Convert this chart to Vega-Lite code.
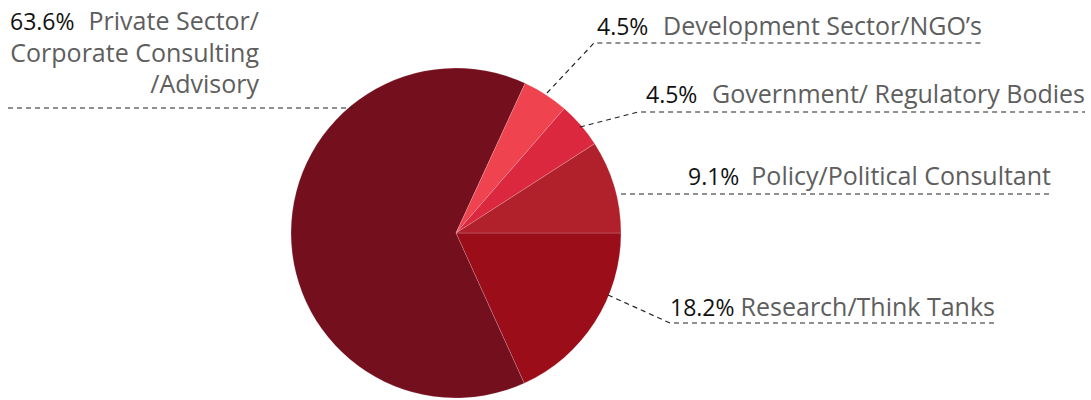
{
  "$schema": "https://vega.github.io/schema/vega-lite/v6.json",
  "width": 1091,
  "height": 400,
  "autosize": {"type": "none"},
  "padding": 0,
  "background": "white",
  "config": {"view": {"stroke": null}},
  "datasets": {
    "slices": [
      {"category": "Research/Think Tanks", "share": 18.2, "ord": 1},
      {"category": "Private Sector/Corporate Consulting/Advisory", "share": 63.6, "ord": 2},
      {"category": "Development Sector/NGO’s", "share": 4.5, "ord": 3},
      {"category": "Government/ Regulatory Bodies", "share": 4.5, "ord": 4},
      {"category": "Policy/Political Consultant", "share": 9.1, "ord": 5}
    ],
    "leaders": [
      {"category": "Private", "pt": 1, "px": 8, "py": 108},
      {"category": "Private", "pt": 2, "px": 353, "py": 108},
      {"category": "Development", "pt": 1, "px": 547, "py": 93},
      {"category": "Development", "pt": 2, "px": 594, "py": 43},
      {"category": "Development", "pt": 3, "px": 982, "py": 43},
      {"category": "Government", "pt": 1, "px": 580, "py": 127},
      {"category": "Government", "pt": 2, "px": 638, "py": 112},
      {"category": "Government", "pt": 3, "px": 1085, "py": 112},
      {"category": "Policy", "pt": 1, "px": 621, "py": 194},
      {"category": "Policy", "pt": 2, "px": 1052, "py": 194},
      {"category": "Research", "pt": 1, "px": 608, "py": 295},
      {"category": "Research", "pt": 2, "px": 670, "py": 323},
      {"category": "Research", "pt": 3, "px": 995, "py": 323}
    ],
    "labels": [
      {"pct": "63.6%", "name": "Private Sector/\nCorporate Consulting\n/Advisory", "x0": 10, "x1": 259, "base": 30},
      {"pct": "4.5%", "name": "Development Sector/NGO’s", "x0": 597, "x1": 982, "base": 35},
      {"pct": "4.5%", "name": "Government/ Regulatory Bodies", "x0": 646, "x1": 1085, "base": 103},
      {"pct": "9.1%", "name": "Policy/Political Consultant", "x0": 688, "x1": 1051, "base": 185},
      {"pct": "18.2%", "name": "Research/Think Tanks", "x0": 670, "x1": 995, "base": 316}
    ]
  },
  "layer": [
    {
      "data": {"name": "slices"},
      "mark": {"type": "arc", "outerRadius": 165, "stroke": "#ffffff", "strokeWidth": 0.5, "strokeOpacity": 0.35},
      "encoding": {
        "x": {"datum": 456, "type": "quantitative", "scale": {"domain": [0, 1091], "nice": false, "zero": false}, "axis": null},
        "y": {"datum": 233, "type": "quantitative", "scale": {"domain": [0, 400], "nice": false, "zero": false, "reverse": true}, "axis": null},
        "theta": {"field": "share", "type": "quantitative", "stack": true, "scale": {"range": [1.5707963, 7.8539816]}},
        "order": {"field": "ord", "type": "quantitative"},
        "color": {
          "field": "category",
          "type": "nominal",
          "legend": null,
          "scale": {
            "domain": ["Research/Think Tanks", "Private Sector/Corporate Consulting/Advisory", "Development Sector/NGO’s", "Government/ Regulatory Bodies", "Policy/Political Consultant"],
            "range": ["#9b0d18", "#74101e", "#ef4350", "#db283f", "#b0212b"]
          }
        }
      }
    },
    {
      "data": {"name": "leaders"},
      "mark": {"type": "line", "stroke": "#222222", "strokeWidth": 1.2, "strokeDash": [5, 4]},
      "encoding": {
        "x": {"field": "px", "type": "quantitative", "scale": {"domain": [0, 1091], "nice": false, "zero": false}, "axis": null},
        "y": {"field": "py", "type": "quantitative", "scale": {"domain": [0, 400], "nice": false, "zero": false, "reverse": true}, "axis": null},
        "detail": {"field": "category"},
        "order": {"field": "pt", "type": "quantitative"}
      }
    },
    {
      "data": {"name": "labels"},
      "mark": {"type": "text", "align": "left", "baseline": "alphabetic", "font": "Open Sans", "fontSize": 23, "color": "#111111"},
      "encoding": {
        "x": {"field": "x0", "type": "quantitative", "scale": {"domain": [0, 1091], "nice": false, "zero": false}, "axis": null},
        "y": {"field": "base", "type": "quantitative", "scale": {"domain": [0, 400], "nice": false, "zero": false, "reverse": true}, "axis": null},
        "text": {"field": "pct", "type": "nominal"}
      }
    },
    {
      "data": {"name": "labels"},
      "mark": {"type": "text", "align": "right", "baseline": "alphabetic", "font": "Open Sans", "fontSize": 25, "color": "#5e5e5e", "lineBreak": "\n", "lineHeight": 31.5},
      "encoding": {
        "x": {"field": "x1", "type": "quantitative", "scale": {"domain": [0, 1091], "nice": false, "zero": false}, "axis": null},
        "y": {"field": "base", "type": "quantitative", "scale": {"domain": [0, 400], "nice": false, "zero": false, "reverse": true}, "axis": null},
        "text": {"field": "name", "type": "nominal"}
      }
    }
  ]
}
